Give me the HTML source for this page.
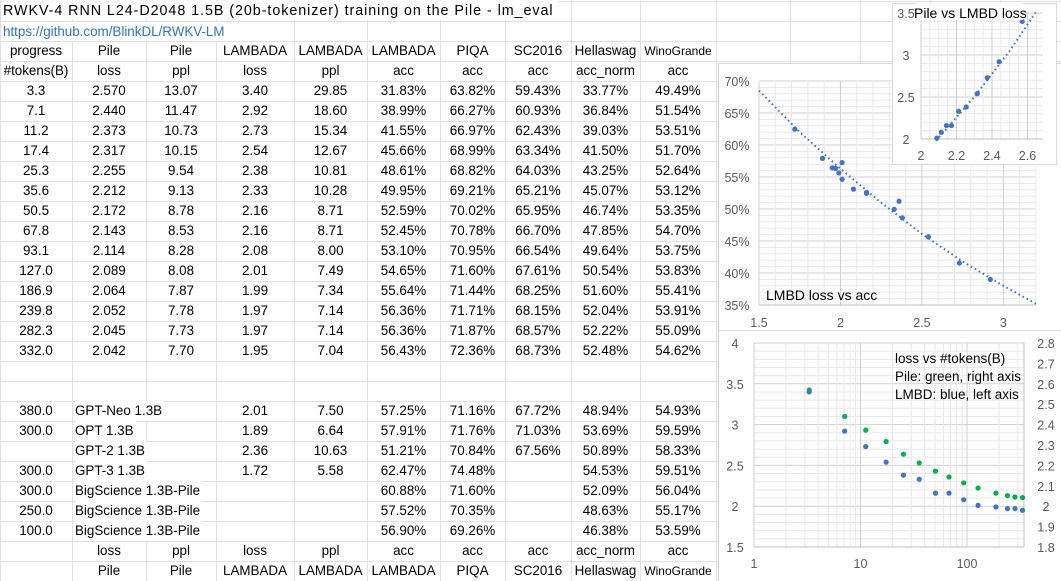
<!DOCTYPE html>
<html><head><meta charset="utf-8"><style>
body{margin:0;width:1061px;height:581px;overflow:hidden;background:#fff;font-family:"Liberation Sans",Arial,sans-serif;position:relative}
#g{position:absolute;left:0;top:0}
.t{position:absolute;font-size:13.4px;line-height:20px;height:20px;white-space:nowrap;color:#000}
</style></head><body>
<div id="root"></div>
<script>
const cols=[0,72,146,216,294,367,440,505,571,640,716,790,860,930,1000,1061];
let h='<svg id="g" width="1061" height="581" xmlns="http://www.w3.org/2000/svg">';
for(let k=0;k<=29;k++){const y=1+20*k+0.5;h+=`<line x1="0" y1="${y}" x2="1061" y2="${y}" stroke="#e0e0e0"/>`;}
for(const x of cols){h+=`<line x1="${x+0.5}" y1="0" x2="${x+0.5}" y2="581" stroke="#e0e0e0"/>`;}
h+='</svg>';
let t='';
function cell(r,c,txt,opt={}){
  const x0=cols[c],x1=cols[c+1],y=1+20*r;
  if(opt.left){t+=`<div class="t" style="left:${x0+3}px;top:${y}px;background:#fff;padding-right:2px;${opt.style||''}">${txt}</div>`;}
  else t+=`<div class="t" style="left:${x0}px;width:${x1-x0}px;top:${y}px;text-align:center;${opt.style||''}">${txt}</div>`;
}
cell(0,0,'RWKV-4 RNN L24-D2048 1.5B (20b-tokenizer) training on the Pile - lm_eval',{left:1,style:'top:1px;height:19px;padding-right:4px;font-size:14.3px;letter-spacing:0.95px'});
cell(1,0,'https://github.com/BlinkDL/RWKV-LM',{left:1,style:'color:#2e74c0;top:22px;height:19px'});
const h1=['progress','Pile','Pile','LAMBADA','LAMBADA','LAMBADA','PIQA','SC2016','Hellaswag','WinoGrande'];
const h2=['#tokens(B)','loss','ppl','loss','ppl','acc','acc','acc','acc_norm','acc'];
h1.forEach((s,i)=>cell(2,i,s,i==9?{style:'font-size:12px'}:{}));
h2.forEach((s,i)=>cell(3,i,s));
const D=[
['3.3','2.570','13.07','3.40','29.85','31.83%','63.82%','59.43%','33.77%','49.49%'],
['7.1','2.440','11.47','2.92','18.60','38.99%','66.27%','60.93%','36.84%','51.54%'],
['11.2','2.373','10.73','2.73','15.34','41.55%','66.97%','62.43%','39.03%','53.51%'],
['17.4','2.317','10.15','2.54','12.67','45.66%','68.99%','63.34%','41.50%','51.70%'],
['25.3','2.255','9.54','2.38','10.81','48.61%','68.82%','64.03%','43.25%','52.64%'],
['35.6','2.212','9.13','2.33','10.28','49.95%','69.21%','65.21%','45.07%','53.12%'],
['50.5','2.172','8.78','2.16','8.71','52.59%','70.02%','65.95%','46.74%','53.35%'],
['67.8','2.143','8.53','2.16','8.71','52.45%','70.78%','66.70%','47.85%','54.70%'],
['93.1','2.114','8.28','2.08','8.00','53.10%','70.95%','66.54%','49.64%','53.75%'],
['127.0','2.089','8.08','2.01','7.49','54.65%','71.60%','67.61%','50.54%','53.83%'],
['186.9','2.064','7.87','1.99','7.34','55.64%','71.44%','68.25%','51.60%','55.41%'],
['239.8','2.052','7.78','1.97','7.14','56.36%','71.71%','68.15%','52.04%','53.91%'],
['282.3','2.045','7.73','1.97','7.14','56.36%','71.87%','68.57%','52.22%','55.09%'],
['332.0','2.042','7.70','1.95','7.04','56.43%','72.36%','68.73%','52.48%','54.62%']];
D.forEach((row,r)=>row.forEach((s,c)=>cell(4+r,c,s)));
const O=[
['380.0','GPT-Neo 1.3B','','2.01','7.50','57.25%','71.16%','67.72%','48.94%','54.93%'],
['300.0','OPT 1.3B','','1.89','6.64','57.91%','71.76%','71.03%','53.69%','59.59%'],
['','GPT-2 1.3B','','2.36','10.63','51.21%','70.84%','67.56%','50.89%','58.33%'],
['300.0','GPT-3 1.3B','','1.72','5.58','62.47%','74.48%','','54.53%','59.51%'],
['300.0','BigScience 1.3B-Pile','','','','60.88%','71.60%','','52.09%','56.04%'],
['250.0','BigScience 1.3B-Pile','','','','57.52%','70.35%','','48.63%','55.17%'],
['100.0','BigScience 1.3B-Pile','','','','56.90%','69.26%','','46.38%','53.59%']];
O.forEach((row,r)=>row.forEach((s,c)=>{if(!s)return;if(c==1)cell(20+r,1,s,{left:1});else cell(20+r,c,s);}));
['','loss','ppl','loss','ppl','acc','acc','acc','acc_norm','acc'].forEach((s,c)=>s&&cell(27,c,s));
['','Pile','Pile','LAMBADA','LAMBADA','LAMBADA','PIQA','SC2016','Hellaswag','WinoGrande'].forEach((s,c)=>s&&cell(28,c,s,c==9?{style:'font-size:12px'}:{}));

let s='<svg style="position:absolute;left:0;top:0" width="1061" height="581" xmlns="http://www.w3.org/2000/svg" font-family="Liberation Sans, Arial, sans-serif">';
const B='#4472c4',G='#00b050',maj='#cfcfcf',mn='#e8e8e8';
function L(x1,y1,x2,y2,c){s+=`<line x1="${x1}" y1="${y1}" x2="${x2}" y2="${y2}" stroke="${c}" stroke-width="1"/>`;}
function T(x,y,txt,anchor,size,col){s+=`<text x="${x}" y="${y}" text-anchor="${anchor||'middle'}" font-size="${size||12}" fill="${col||'#595959'}">${txt}</text>`;}
function P(x,y,c){s+=`<circle cx="${x}" cy="${y}" r="2.6" fill="${c}"/>`;}
// chart1
s+=`<rect x="718.5" y="63.5" width="350" height="267" fill="#fff" stroke="#d9d9d9"/>`;
const X1=v=>759+(v-1.5)*162.9, Y1=a=>305-(a-35)*6.4;
for(let a=35;a<=70;a++)L(759,Y1(a),1036,Y1(a),a%5?mn:maj);
for(let v=1.5;v<=3.21;v+=0.1){const x=X1(v);L(x,81,x,305,Math.abs(v*2-Math.round(v*2))<0.01?maj:mn);}
L(759,305,1036,305,'#bfbfbf');
for(let a=35;a<=70;a+=5)T(737,Y1(a)+5,a+'%','middle',12.5);
[[1.5,'1.5'],[2,'2'],[2.5,'2.5'],[3,'3']].forEach(([v,l])=>T(X1(v),327,l,'middle',12.5));
let tr=[[1.5,68.5],[1.75,62],[2,56.3],[2.25,51],[2.5,46.1],[2.75,41.8],[3,38],[3.2,35.2]];
s+=`<polyline fill="none" stroke="${B}" stroke-width="2" stroke-dasharray="1.6 3" points="${tr.map(p=>X1(p[0])+','+Y1(p[1])).join(' ')}"/>`;
D.forEach(r=>P(X1(+r[3]),Y1(parseFloat(r[5])),B));
[[2.01,57.25],[1.89,57.91],[2.36,51.21],[1.72,62.47]].forEach(p=>P(X1(p[0]),Y1(p[1]),B));
T(766,300,'LMBD loss vs acc','start',14,'#000');
// chart2
s+=`<rect x="892.5" y="3.5" width="164" height="161" fill="#fff" stroke="#d9d9d9"/>`;
const X2=v=>921+(v-2)*177.5, Y2=v=>139-(v-2)*84;
for(let v=2;v<=3.51;v+=0.1)L(921,Y2(v),1043,Y2(v),Math.abs(v*2-Math.round(v*2))<0.01?maj:mn);
for(let v=2;v<=2.69;v+=0.05){const x=X2(v);L(x,13,x,139,Math.abs(v*5-Math.round(v*5))<0.01?maj:mn);}
L(921,139,1043,139,'#bfbfbf');
[[2,'2'],[2.5,'2.5'],[3,'3'],[3.5,'3.5']].forEach(([v,l])=>T(906,Y2(v)+5,l,'middle',12.5));
[[2,'2'],[2.2,'2.2'],[2.4,'2.4'],[2.6,'2.6']].forEach(([v,l])=>T(X2(v),160,l,'middle',12.5));
s+=`<polyline fill="none" stroke="${B}" stroke-width="2" stroke-dasharray="1.6 3" points="${X2(2.085)},${Y2(1.98)} ${X2(2.3)},${Y2(2.5)} ${X2(2.5)},${Y2(3.05)} ${X2(2.65)},${Y2(3.52)}"/>`;
D.forEach(r=>{if(+r[3]>=2)P(X2(+r[1]),Y2(+r[3]),B);});
s+=`<rect x="917" y="3" width="106" height="17" fill="#fff"/>`;
T(914,18,'Pile vs LMBD loss','start',14,'#000');
// chart3
s+=`<rect x="718.5" y="330.5" width="350" height="255" fill="#fff" stroke="#d9d9d9"/>`;
const X3=t=>754+Math.log10(t)*106.5, Y3=v=>547-(v-1.5)*81.6, YR=v=>547-(v-1.8)*204;
for(let v=1.5;v<=4.01;v+=0.1)L(754,Y3(v),1024,Y3(v),Math.abs(v*2-Math.round(v*2))<0.01?maj:mn);
for(let d=1;d<=100;d*=10)for(let m=1;m<10;m++){const tt=d*m;if(tt>343)break;const x=X3(tt);L(x,343,x,547,m==1?maj:mn);}
L(754,547,1024,547,'#bfbfbf');L(1024,343,1024,547,'#bfbfbf');
[1.5,2,2.5,3,3.5,4].forEach(v=>T(735,Y3(v)+5,String(v),'middle',12.5));
for(let k=18;k<=28;k++){const v=k/10;T(1046,YR(v)+5,k==20?'2':v.toFixed(1),'middle',12.5);}
[[1,'1'],[10,'10'],[100,'100']].forEach(([v,l])=>T(X3(v),568,l,'middle',12.5));
D.forEach(r=>{P(X3(+r[0]),YR(+r[1]),G);P(X3(+r[0]),Y3(+r[3]),B);});
T(895,363,'loss vs #tokens(B)','start',13.5,'#000');
T(895,381,'Pile: green, right axis','start',13.5,'#000');
T(895,399,'LMBD: blue, left axis','start',13.5,'#000');
s+='</svg>';
document.getElementById('root').innerHTML=h+t+s;
</script>
</body></html>
